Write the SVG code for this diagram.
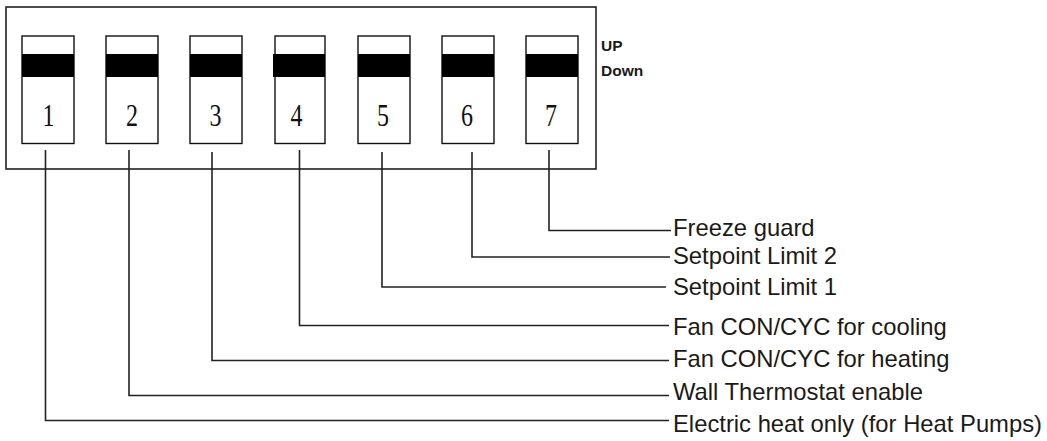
<svg xmlns="http://www.w3.org/2000/svg" width="1047" height="441" viewBox="0 0 1047 441">
<style>
.frame{fill:none;stroke:#222;stroke-width:1.6}
.sw{fill:#fff;stroke:#111;stroke-width:1.4}
.bar{fill:#000}
.num{font-family:"Liberation Serif",serif;font-size:32px;fill:#111;text-anchor:middle}
.lbl{font-family:"Liberation Sans",Arial,sans-serif;font-size:23.8px;fill:#1a1a1a}
.ud{font-family:"Liberation Sans",Arial,sans-serif;font-size:15.5px;font-weight:bold;fill:#1a1a1a}
.wire{fill:none;stroke:#222;stroke-width:1.6}
</style>
<rect id="housing" class="frame" x="6" y="7" width="590" height="162"/>
<g id="legend">
<text class="ud" x="601" y="50.5">UP</text>
<text class="ud" x="601" y="75.5">Down</text>
</g>
<g id="switch1"><rect class="sw" x="22" y="36" width="52" height="107.5"/><rect class="bar" x="22" y="54" width="52" height="23"/><text class="num" transform="translate(48.5,126) scale(0.75,1)">1</text></g>
<g id="switch2"><rect class="sw" x="106" y="36" width="52" height="107.5"/><rect class="bar" x="106" y="54" width="52" height="23"/><text class="num" transform="translate(132,126) scale(0.75,1)">2</text></g>
<g id="switch3"><rect class="sw" x="190" y="36" width="52" height="107.5"/><rect class="bar" x="190" y="54" width="52" height="23"/><text class="num" transform="translate(215.5,126) scale(0.75,1)">3</text></g>
<g id="switch4"><rect class="sw" x="275" y="36" width="50" height="107.5"/><rect class="bar" x="273" y="54" width="52" height="23"/><text class="num" transform="translate(296.5,126) scale(0.75,1)">4</text></g>
<g id="switch5"><rect class="sw" x="358" y="36" width="52" height="107.5"/><rect class="bar" x="358" y="54" width="52" height="23"/><text class="num" transform="translate(383,126) scale(0.75,1)">5</text></g>
<g id="switch6"><rect class="sw" x="442" y="36" width="52" height="107.5"/><rect class="bar" x="442" y="54" width="52" height="23"/><text class="num" transform="translate(467,126) scale(0.75,1)">6</text></g>
<g id="switch7"><rect class="sw" x="526" y="36" width="52" height="107.5"/><rect class="bar" x="526" y="54" width="52" height="23"/><text class="num" transform="translate(551,126) scale(0.75,1)">7</text></g>
<g id="connectors">
<polyline class="wire" points="45.5,150 45.5,420.5 669,420.5"/>
<polyline class="wire" points="129,150 129,395.5 669,395.5"/>
<polyline class="wire" points="212,152 212,360.5 669,360.5"/>
<polyline class="wire" points="299.5,150 299.5,325.5 669,325.5"/>
<polyline class="wire" points="382,152 382,287 666,287"/>
<polyline class="wire" points="472,152 472,257 670,257"/>
<polyline class="wire" points="549,150 549,230.5 671,230.5"/>
</g>
<g id="labels">
<text class="lbl" x="673" y="235.5">Freeze guard</text>
<text class="lbl" x="673" y="263.5">Setpoint Limit 2</text>
<text class="lbl" x="673" y="295">Setpoint Limit 1</text>
<text class="lbl" x="673" y="335">Fan CON/CYC for cooling</text>
<text class="lbl" x="673" y="366.5">Fan CON/CYC for heating</text>
<text class="lbl" x="673" y="399.5">Wall Thermostat enable</text>
<text class="lbl" x="673" y="431.5">Electric heat only (for Heat Pumps)</text>
</g>
</svg>
